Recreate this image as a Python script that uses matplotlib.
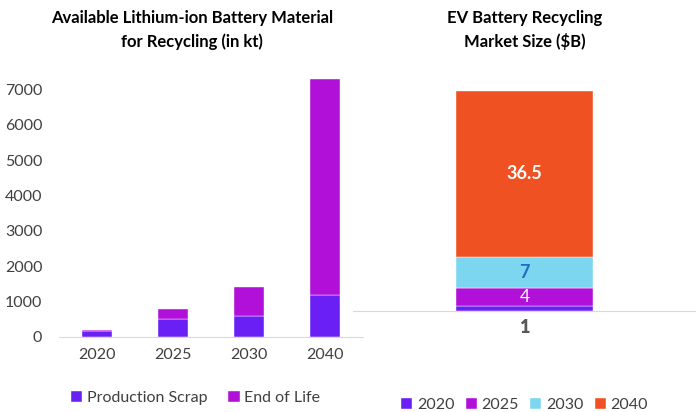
import matplotlib.pyplot as plt
import numpy as np

plt.rcParams['font.family'] = ['Lato', 'DejaVu Sans']

# left chart data (kt)
years = ['2020', '2025', '2030', '2040']
production_scrap = [160, 500, 600, 1200]
end_of_life = [40, 300, 800, 6100]

# right chart data ($B)
market_years = ['2020', '2025', '2030', '2040']
market_size = [1, 4, 7, 36.5]
market_labels = ['1', '4', '7', '36.5']
market_category = ['1']

c_scrap = '#6a1ff5'
c_eol = '#b010d8'
market_colors = ['#6a1ff5', '#b010d8', '#7dd6f0', '#f05122']
label_colors = ['#595959', 'white', '#1f6fc0', 'white']
tick_color = '#404040'

fig = plt.figure(figsize=(6.96, 4.12), dpi=100)

# ---- left: stacked bars
ax1 = fig.add_axes([59 / 696, 75 / 412, 304 / 696, 283 / 412])
x = np.arange(len(years))
ax1.bar(x, production_scrap, width=0.4, color=c_scrap, edgecolor='white',
        linewidth=0.3, label='Production Scrap')
ax1.bar(x, end_of_life, width=0.4, bottom=production_scrap, color=c_eol,
        edgecolor='white', linewidth=0.3, label='End of Life')
ax1.set_xlim(-0.5, len(years) - 0.5)
ax1.set_ylim(0, 8000)
ax1.set_yticks(range(0, 8000, 1000))
ax1.set_xticks(x)
ax1.set_xticklabels(years)
for s in ['top', 'right', 'left']:
    ax1.spines[s].set_visible(False)
ax1.spines['bottom'].set_color('#d9d9d9')
ax1.tick_params(axis='both', length=0, labelsize=11.5, colors=tick_color, pad=8)
ax1.tick_params(axis='y', pad=12)
ax1.legend(loc='upper center', bbox_to_anchor=(0.45, -0.14), ncol=2, frameon=False,
           fontsize=11.5, handlelength=0.7, handleheight=0.7, handletextpad=0.3,
           columnspacing=1.3, labelcolor=tick_color)
fig.text(192 / 696, 1 - 30 / 412, 'Available Lithium-ion Battery Material\nfor Recycling (in kt)',
         ha='center', va='center', fontsize=12, fontweight='bold', color='black',
         linespacing=1.5)

# ---- right: single stacked bar
ax2 = fig.add_axes([353 / 696, 101 / 412, 343 / 696, 227 / 412])
bottom = 0
for val, lab, col, lc, yr in zip(market_size, market_labels, market_colors, label_colors, market_years):
    ax2.bar(0, val, width=0.4, bottom=bottom, color=col, edgecolor='white',
            linewidth=0.3, label=yr)
    if lab != '1':
        ax2.text(0, bottom + val / 2, lab, ha='center', va='center',
                 fontsize=13 if lab != '4' else 12.5,
                 fontweight='bold' if lab != '4' else 'normal', color=lc)
    bottom += val
ax2.set_xlim(-0.5, 0.5)
ax2.set_ylim(0, 50)
ax2.set_xticks([0])
ax2.set_xticklabels(market_category)
ax2.set_yticks([])
for s in ['top', 'right', 'left']:
    ax2.spines[s].set_visible(False)
ax2.spines['bottom'].set_color('#d9d9d9')
ax2.tick_params(axis='x', length=0, colors='#595959', pad=6)
for t in ax2.get_xticklabels():
    t.set_fontweight('heavy')
    t.set_fontsize(13)
ax2.legend(loc='upper center', bbox_to_anchor=(0.5, -0.32), ncol=4, frameon=False,
           fontsize=11.5, handlelength=0.7, handleheight=0.7, handletextpad=0.3,
           columnspacing=0.7, labelcolor=tick_color)
fig.text(525 / 696, 1 - 30 / 412, 'EV Battery Recycling\nMarket Size ($B)',
         ha='center', va='center', fontsize=12, fontweight='bold', color='black',
         linespacing=1.5)

fig.savefig('out.png', dpi=100)
